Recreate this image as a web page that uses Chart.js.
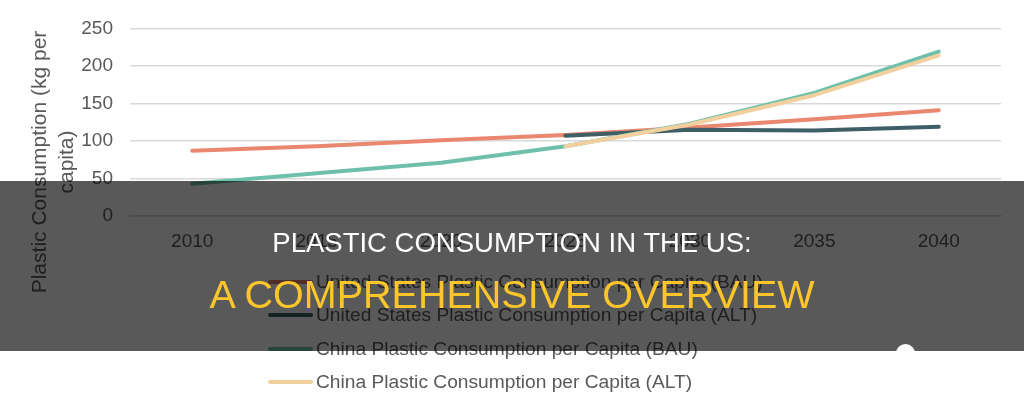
<!DOCTYPE html>
<html>
<head>
<meta charset="utf-8">
<script src="https://cdn.jsdelivr.net/npm/chart.js@4/dist/chart.umd.min.js"></script>
<style>
  html, body { margin: 0; padding: 0; background: #fff; }
  #wrap { position: relative; width: 1024px; height: 409px; overflow: hidden; font-family: 'Liberation Sans', Arial, sans-serif; }
  #chart { position: absolute; left: 0; top: 0; }
  #legend { position: absolute; left: 268px; top: 265px; }
  .leg-row { height: 33.5px; display: flex; align-items: center; }
  .leg-swatch { width: 45px; height: 4px; border-radius: 2px; margin-right: 3px; }
  .leg-text { font-size: 19.2px; color: #595959; white-space: nowrap; }
  #band { position: absolute; left: 0; top: 181px; width: 1024px; height: 170px; background: rgba(0,0,0,0.65); }
  #band .l1 { position: absolute; left: 0; width: 100%; top: 47px; text-align: center; color: #fff; font-size: 27.5px; line-height: 30px; }
  #band .l2 { position: absolute; left: 0; width: 100%; top: 92px; text-align: center; color: #fcc62b; font-size: 39.5px; line-height: 42px; }
  #dot { position: absolute; left: 896px; top: 344px; width: 19px; height: 19px; border-radius: 50%; background: #fff; }
</style>
</head>
<body>
<div id="wrap">
  <canvas id="chart" width="1024" height="409"></canvas>
  <div id="legend"></div>
  <div id="band">
    <div class="l1">PLASTIC CONSUMPTION IN THE US:</div>
    <div class="l2">A COMPREHENSIVE OVERVIEW</div>
  </div>
  <div id="dot"></div>
</div>
<script>
  // ===== DATA =====
  const YEARS = ['2010', '2015', '2020', '2025', '2030', '2035', '2040'];
  const US_BAU = [87, 93, 101, 108, 118, 129, 141];
  const US_ALT = [null, null, null, 107, 115, 114, 119];
  const CHINA_BAU = [43, 57, 71, 93, 123, 164, 219];
  const CHINA_ALT = [null, null, null, 93, 122, 161, 214];
  const Y_TICKS = [0, 50, 100, 150, 200, 250];
  const Y_TITLE = ['Plastic Consumption (kg per', 'capita)'];

  const FONT = "'Liberation Sans', Arial, sans-serif";
  const TEXT = '#595959';
  const GRID = '#d9d9d9';

  function series(label, data, color, order) {
    return {
      label, data, order,
      borderColor: color,
      backgroundColor: color,
      borderWidth: 4,
      borderCapStyle: 'round',
      borderJoinStyle: 'round',
      pointRadius: 0,
      tension: 0,
      fill: false,
    };
  }

  const datasets = [
    series('United States Plastic Consumption per Capita (BAU)', US_BAU, '#e9876f', 4),
    series('United States Plastic Consumption per Capita (ALT)', US_ALT, '#3f5f66', 3),
    series('China Plastic Consumption per Capita (BAU)', CHINA_BAU, '#6fc0aa', 2),
    series('China Plastic Consumption per Capita (ALT)', CHINA_ALT, '#f2cf9f', 1),
  ];

  // rotated two-line y axis title, centred lower than the plot like the source
  const yTitle = {
    id: 'yTitle',
    afterDraw(c) {
      const ctx = c.ctx;
      ctx.save();
      ctx.fillStyle = TEXT;
      ctx.font = '21px ' + FONT;
      ctx.textAlign = 'center';
      ctx.textBaseline = 'middle';
      Y_TITLE.forEach((t, i) => {
        ctx.save();
        ctx.translate(40 + i * 27, 162);
        ctx.rotate(-Math.PI / 2);
        ctx.fillText(t, 0, 0);
        ctx.restore();
      });
      ctx.restore();
    },
  };

  const chart = new Chart(document.getElementById('chart'), {
    type: 'line',
    data: { labels: YEARS, datasets },
    plugins: [yTitle],
    options: {
      responsive: false,
      animation: false,
      layout: { padding: { left: 0, right: 23, top: 23, bottom: 0 } },
      plugins: { legend: { display: false }, tooltip: { enabled: false } },
      scales: {
        x: {
          offset: true,
          grid: { display: false, drawTicks: false },
          border: { display: true, color: GRID, width: 1.5 },
          ticks: { color: TEXT, font: { family: FONT, size: 19 }, padding: 14, maxRotation: 0 },
          afterFit: s => { s.height = 193; },
        },
        y: {
          min: 0, max: 250,
          afterBuildTicks: s => { s.ticks = Y_TICKS.map(v => ({ value: v })); },
          grid: { color: GRID, lineWidth: 1.5, drawTicks: false },
          border: { display: false },
          ticks: { color: TEXT, font: { family: FONT, size: 19 }, padding: 17 },
          afterFit: s => { s.width = 130; },
        },
      },
    },
  });

  // ===== LEGEND (vertical list, built from the chart's datasets) =====
  const legend = document.getElementById('legend');
  chart.data.datasets.forEach(ds => {
    const row = document.createElement('div');
    row.className = 'leg-row';
    row.innerHTML = `<span class="leg-swatch" style="background:${ds.borderColor}"></span><span class="leg-text">${ds.label}</span>`;
    legend.appendChild(row);
  });
</script>
</body>
</html>
